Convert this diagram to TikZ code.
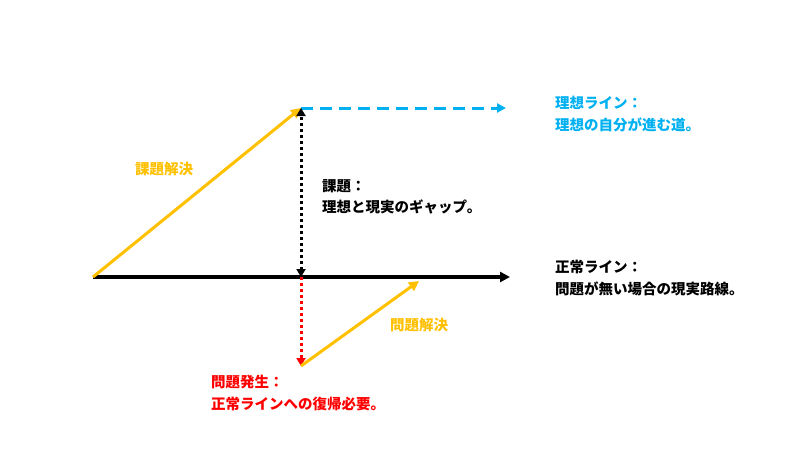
\documentclass[tikz,border=0pt]{standalone}
\usepackage{fontspec}
\newfontfamily\jp{Noto Sans CJK JP}
\usetikzlibrary{arrows.meta}
\definecolor{solveyellow}{HTML}{FFC000}
\definecolor{idealblue}{HTML}{00B0F0}
\definecolor{issuered}{HTML}{FF0000}
\tikzset{
  lbl/.style={font=\jp\bfseries\fontsize{14.5}{21.5}\selectfont,anchor=north west,inner sep=0pt,align=left},
  tip/.style={-{Triangle[length=10pt,width=10pt]}},
  dots/.style={line width=3pt,dash pattern=on 3pt off 3pt}
}
\begin{document}
\begin{tikzpicture}[x=1pt,y=-1pt]
\useasboundingbox (0,0) rectangle (800,450);
\coordinate (o) at (93,277);
\coordinate (n) at (510,277);
\coordinate (t) at (301,108);
\coordinate (i) at (506,108);
\coordinate (m) at (301,277);
\coordinate (b) at (301,366);
\coordinate (r) at (419,281);
\draw[line width=4pt,tip] (o) -- (n);
\draw[solveyellow,line width=3pt,-{Triangle[length=10pt,width=10pt]}] (o) -- (t);
\draw[idealblue,line width=3pt,dash pattern=on 12pt off 7pt,-{Triangle[length=9pt,width=9pt]}] (t) -- (i);
\draw[dots,{Triangle[length=8pt,width=9pt]}-{Triangle[length=8pt,width=9pt]}] (m) -- (t);
\draw[issuered,dots,-{Triangle[length=8pt,width=9pt]}] (m) -- (b);
\draw[solveyellow,line width=3pt,-{Triangle[length=10pt,width=10pt]}] (b) -- (r);
\node[lbl,text=solveyellow] (solve1) at (135,162) {課題解決};
\node[lbl] (gap) at (322,179) {課題：\\理想と現実のギャップ。};
\node[lbl,text=idealblue] (ideal) at (555,96) {理想ライン：\\理想の自分が進む道。};
\node[lbl] (normal) at (555,260) {正常ライン：\\問題が無い場合の現実路線。};
\node[lbl,text=solveyellow] (solve2) at (390,318) {問題解決};
\node[lbl,text=issuered] (issue) at (211,375) {問題発生：\\正常ラインへの復帰必要。};
\end{tikzpicture}
\end{document}
